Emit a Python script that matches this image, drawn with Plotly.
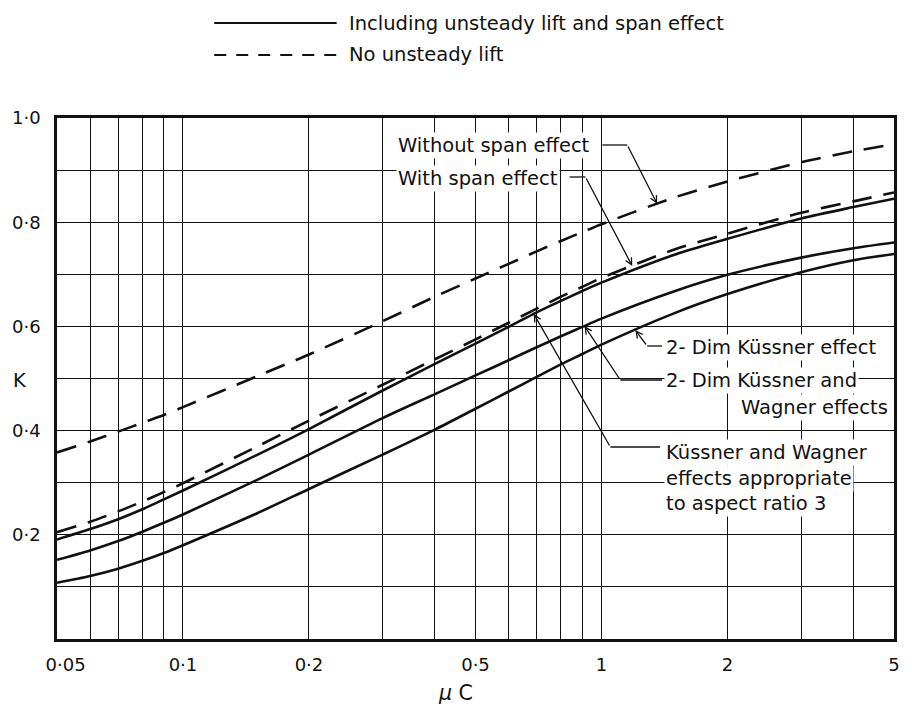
import numpy as np
import plotly.graph_objects as go

# ---------------- data ----------------
mu_c = [0.05, 0.06, 0.07, 0.08, 0.09, 0.1, 0.15, 0.2, 0.3, 0.4, 0.5, 0.6, 0.7,
        0.8, 0.9, 1.0, 1.5, 2, 3, 4, 5]

k_no_unsteady_without_span = [0.358, 0.379, 0.398, 0.415, 0.430, 0.445, 0.504, 0.546, 0.610,
                              0.657, 0.692, 0.720, 0.744, 0.764, 0.781, 0.796, 0.848, 0.878,
                              0.915, 0.936, 0.950]
k_no_unsteady_with_span = [0.205, 0.225, 0.245, 0.264, 0.282, 0.299, 0.369, 0.419, 0.488,
                           0.537, 0.575, 0.607, 0.634, 0.657, 0.676, 0.693, 0.748, 0.778,
                           0.818, 0.840, 0.857]
k_kw_aspect3 = [0.191, 0.211, 0.230, 0.249, 0.268, 0.285, 0.353, 0.403, 0.477, 0.528, 0.567,
                0.599, 0.627, 0.649, 0.668, 0.684, 0.738, 0.768, 0.807, 0.829, 0.845]
k_2d_kw = [0.152, 0.170, 0.188, 0.206, 0.223, 0.239, 0.305, 0.354, 0.424, 0.470, 0.506,
           0.535, 0.560, 0.581, 0.599, 0.615, 0.668, 0.699, 0.732, 0.750, 0.761]
k_2d_kussner = [0.108, 0.121, 0.135, 0.150, 0.165, 0.180, 0.241, 0.288, 0.354, 0.402, 0.442,
                0.475, 0.503, 0.527, 0.547, 0.565, 0.626, 0.662, 0.704, 0.727, 0.739]

x_grid = [0.05, 0.06, 0.07, 0.08, 0.09, 0.1, 0.2, 0.3, 0.4, 0.5, 0.6, 0.7, 0.8, 0.9,
          1, 2, 3, 4, 5]
x_labels = {0.05: "\u00a0\u00a0\u00a00·05", 0.1: "0·1", 0.2: "0·2", 0.5: "0·5",
            1: "1", 2: "2", 5: "5"}
y_grid = [0.0, 0.1, 0.2, 0.3, 0.4, 0.5, 0.6, 0.7, 0.8, 0.9, 1.0]
y_labels = {0.2: "0·2", 0.4: "0·4", 0.6: "0·6", 0.8: "0·8", 1.0: "1·0"}

legend_solid = "Including unsteady lift and span effect"
legend_dashed = "No unsteady lift"

# ---------------- layout geometry ----------------
FIG_W, FIG_H = 912, 707
ML, MR, MT, MB = 57, 14, 118, 68
PW, PH = FIG_W - ML - MR, FIG_H - MT - MB
X0, X1 = np.log10(0.05), np.log10(5)
INK = "#111111"
FONT = "DejaVu Sans"
FS = 19.5


def paper(px, py):
    return (px - ML) / PW, (FIG_H - MB - py) / PH


def data_from_px(px, py):
    return X0 + (px - ML) / PW * (X1 - X0), (FIG_H - MB - py) / PH


def tip_on(series, px):
    lx = X0 + (px - ML) / PW * (X1 - X0)
    return lx, float(np.interp(lx, np.log10(mu_c), series))


fig = go.Figure()

series = [
    (k_no_unsteady_without_span, "20px,12px"),
    (k_no_unsteady_with_span, "20px,12px"),
    (k_kw_aspect3, "solid"),
    (k_2d_kw, "solid"),
    (k_2d_kussner, "solid"),
]
for ys, dash in series:
    fig.add_trace(go.Scatter(
        x=mu_c, y=ys, mode="lines",
        line=dict(color=INK, width=2.6, dash=dash, shape="spline", smoothing=0.8),
        showlegend=False, hoverinfo="skip"))

annotations = []
shapes = []

# ---------- callouts ----------
callouts = [
    (k_no_unsteady_without_span, 660, (630, 145), 605,
     [("Without span effect", 398, 145)]),
    (k_no_unsteady_with_span, 635, (588, 177), 572,
     [("With span effect", 398, 178)]),
    (k_2d_kussner, 638, (650, 346), 665,
     [("2- Dim Küssner effect", 667, 347)]),
    (k_2d_kw, 587, (623, 380), 665,
     [("2- Dim Küssner and", 667, 380), ("Wagner effects", 742, 407)]),
    (k_kw_aspect3, 536, (613, 447), 663,
     [("Küssner and Wagner", 667, 452), ("effects appropriate", 667, 478),
      ("to aspect ratio 3", 667, 503)]),
]

for ys, tip_px, elbow, hend, lines in callouts:
    tx, ty = tip_on(ys, tip_px)
    ex, ey = data_from_px(*elbow)
    annotations.append(dict(
        x=tx, y=ty, xref="x", yref="y", ax=ex, ay=ey, axref="x", ayref="y",
        text="", showarrow=True, arrowhead=5, arrowsize=1.0, arrowwidth=1.3,
        arrowcolor=INK, standoff=0, startstandoff=0))
    p0 = paper(*elbow)
    p1 = paper(hend, elbow[1])
    shapes.append(dict(type="line", xref="paper", yref="paper",
                       x0=p0[0], y0=p0[1], x1=p1[0], y1=p1[1],
                       line=dict(color=INK, width=1.3)))
    for txt, xl, yc in lines:
        px_, py_ = paper(xl, yc)
        annotations.append(dict(
            x=px_, y=py_, xref="paper", yref="paper", text=txt, showarrow=False,
            xanchor="left", yanchor="middle", bgcolor="white", borderpad=1,
            font=dict(family=FONT, size=FS, color=INK)))

# ---------- custom legend ----------
for yy, dash, txt in [(23, "solid", legend_solid), (55, "12px,10px", legend_dashed)]:
    a = paper(215, yy)
    b = paper(338, yy)
    shapes.append(dict(type="line", xref="paper", yref="paper",
                       x0=a[0], y0=a[1], x1=b[0], y1=b[1],
                       line=dict(color=INK, width=2.2, dash=dash)))
    t = paper(348, yy)
    annotations.append(dict(x=t[0], y=t[1], xref="paper", yref="paper", text=txt,
                            showarrow=False, xanchor="left", yanchor="middle",
                            font=dict(family=FONT, size=FS, color=INK)))

# ---------- axis titles ----------
kx, ky = paper(20, 380)
annotations.append(dict(x=kx, y=ky, xref="paper", yref="paper", text="K",
                        showarrow=False, xanchor="center", yanchor="middle",
                        font=dict(family=FONT, size=FS, color=INK)))
mx, my = paper(457, 693)
annotations.append(dict(x=mx, y=my, xref="paper", yref="paper", text="<i>μ</i> C",
                        showarrow=False, xanchor="center", yanchor="middle",
                        font=dict(family=FONT, size=FS + 1, color=INK)))

fig.update_layout(
    width=FIG_W, height=FIG_H,
    margin=dict(l=ML, r=MR, t=MT, b=MB, pad=0),
    paper_bgcolor="white", plot_bgcolor="white",
    font=dict(family=FONT, size=FS, color=INK),
    annotations=annotations, shapes=shapes,
    showlegend=False,
)
fig.update_xaxes(
    type="log", range=[X0, X1],
    tickmode="array", tickvals=x_grid,
    ticktext=[x_labels.get(v, "") for v in x_grid],
    showgrid=True, gridcolor=INK, gridwidth=1.4,
    showline=True, linecolor=INK, linewidth=2.5, mirror=True,
    ticks="", ticklabelstandoff=8, zeroline=False,
    tickfont=dict(family=FONT, size=18, color=INK),
)
fig.update_yaxes(
    range=[0, 1],
    tickmode="array", tickvals=y_grid,
    ticktext=[y_labels.get(v, "") for v in y_grid],
    showgrid=True, gridcolor=INK, gridwidth=1.4,
    showline=True, linecolor=INK, linewidth=2.5, mirror=True,
    ticks="", ticklabelstandoff=10, zeroline=False,
    tickfont=dict(family=FONT, size=18, color=INK),
)

fig.write_html("out.html")
